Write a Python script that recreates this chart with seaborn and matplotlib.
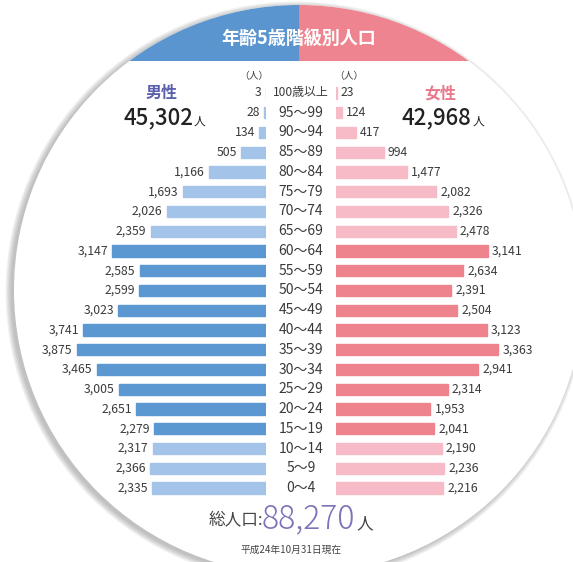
import numpy as np
import pandas as pd
import matplotlib
matplotlib.use("Agg")
import matplotlib.pyplot as plt
from matplotlib.patches import Circle, Rectangle
import seaborn as sns

AGES = ['100歳以上', '95〜99', '90〜94', '85〜89', '80〜84', '75〜79', '70〜74',
        '65〜69', '60〜64', '55〜59', '50〜54', '45〜49', '40〜44', '35〜39',
        '30〜34', '25〜29', '20〜24', '15〜19', '10〜14', '5〜9', '0〜4']
MALE = [3, 28, 134, 505, 1166, 1693, 2026, 2359, 3147, 2585, 2599, 3023,
        3741, 3875, 3465, 3005, 2651, 2279, 2317, 2366, 2335]
FEMALE = [23, 124, 417, 994, 1477, 2082, 2326, 2478, 3141, 2634, 2391, 2504,
          3123, 3363, 2941, 2314, 1953, 2041, 2190, 2236, 2216]
# 65歳以上 / 14歳以下 are drawn in the lighter tone
LIGHT = ['100歳以上', '95〜99', '90〜94', '85〜89', '80〜84', '75〜79', '70〜74',
         '65〜69', '10〜14', '5〜9', '0〜4']

MALE_TOTAL = 45302
FEMALE_TOTAL = 42968
TOTAL = 88270

BLUE, BLUE_L = '#5b97d1', '#a4c3e8'
PINK, PINK_L = '#ef838d', '#f6bbc7'
TXT = '#3a3a3a'

W, H = 573, 562


def main():
    sns.set_theme(style='white')
    plt.rcParams['font.family'] = ['Noto Sans CJK JP', 'DejaVu Sans']

    df = pd.DataFrame({'age': AGES, 'male': MALE, 'female': FEMALE})
    pal_m = {a: (BLUE_L if a in LIGHT else BLUE) for a in AGES}
    pal_f = {a: (PINK_L if a in LIGHT else PINK) for a in AGES}

    fig = plt.figure(figsize=(W / 100, H / 100), dpi=100)
    fig.patch.set_facecolor('white')

    # background / decoration in pixel coordinates
    bg = fig.add_axes([0, 0, 1, 1])
    bg.set_xlim(0, W)
    bg.set_ylim(H, 0)
    bg.axis('off')
    cx, cy, r = 299, 290, 285
    for k in range(8):
        bg.add_patch(Circle((cx - 3, cy + 2), r + k * 0.8, color='#7a7a7a',
                            alpha=0.07, lw=0))
    disc = Circle((cx, cy), r, color='white', lw=0)
    bg.add_patch(disc)
    left_band = Rectangle((0, 0), cx, 61, color='#5b95cf', lw=0)
    right_band = Rectangle((cx, 0), W - cx, 61, color='#ee848f', lw=0)
    for p in (left_band, right_band):
        bg.add_patch(p)
        p.set_clip_path(disc)

    bg.text(cx, 38, '年齢5歳階級別人口', color='white', fontsize=13,
            fontweight='bold', ha='center', va='center')
    bg.text(162, 93, '男性', color='#5a5fae', fontsize=11.5, fontweight='bold',
            ha='center', va='center')
    bg.text(440, 93, '女性', color='#e8788a', fontsize=11.5, fontweight='bold',
            ha='center', va='center')

    tm = bg.text(123, 118, f'{MALE_TOTAL:,}', color='#222222', fontsize=16,
                 fontweight='medium', ha='left', va='center')
    tf = bg.text(402, 118, f'{FEMALE_TOTAL:,}', color='#222222', fontsize=16,
                 fontweight='medium', ha='left', va='center')
    for t in (tm, tf):
        bg.annotate('人', xy=(1, 0.22), xycoords=t, xytext=(0.5, 0),
                    textcoords='offset points', color='#222222', fontsize=8.5,
                    ha='left', va='baseline')
    bg.text(268, 76, '（人）', color=TXT, fontsize=7, ha='right', va='center')
    bg.text(334, 76, '（人）', color=TXT, fontsize=7, ha='left', va='center')

    bg.text(263, 521, '総人口:', color='#444444', fontsize=12, ha='right',
            va='center')
    tt = bg.text(262, 519, f'{TOTAL:,}', color='#7e72b8', fontsize=23,
                 fontweight='light', ha='left', va='center')
    bg.annotate('人', xy=(1, 0.22), xycoords=tt, xytext=(1, 0),
                textcoords='offset points', color='#444444', fontsize=12,
                ha='left', va='baseline')
    bg.text(291, 550, '平成24年10月31日現在', color='#444444', fontsize=7,
            ha='center', va='center')

    # bar axes, rows 93px .. 488px
    top, bottom = 83.1, 497.9
    y0 = 1 - bottom / H
    hh = (bottom - top) / H
    xmax = 4500
    axm = fig.add_axes([(265.7 - xmax * 0.0488) / W, y0, xmax * 0.0488 / W, hh])
    axf = fig.add_axes([335.7 / W, y0, xmax * 0.0484 / W, hh])

    sns.barplot(data=df, x='male', y='age', hue='age', palette=pal_m,
                order=AGES, legend=False, width=0.58, ax=axm, saturation=1)
    sns.barplot(data=df, x='female', y='age', hue='age', palette=pal_f,
                order=AGES, legend=False, width=0.58, ax=axf, saturation=1)
    axm.set_xlim(xmax, 0)
    axf.set_xlim(0, xmax)

    for ax in (axm, axf):
        ax.set_facecolor('none')
        ax.set_xlabel('')
        ax.set_ylabel('')
        ax.set_xticks([])
        ax.set_yticks([])
        sns.despine(ax=ax, left=True, bottom=True)
        for patch in ax.patches:
            patch.set_edgecolor(patch.get_facecolor())
            patch.set_linewidth(1.0)

    for i, (m, f) in enumerate(zip(MALE, FEMALE)):
        axm.annotate(f'{m:,}', (m, i), xytext=(-3, 0), textcoords='offset points',
                     ha='right', va='center', fontsize=8.8, color=TXT,
                     annotation_clip=False)
        axf.annotate(f'{f:,}', (f, i), xytext=(3, 0), textcoords='offset points',
                     ha='left', va='center', fontsize=8.8, color=TXT,
                     annotation_clip=False)
        axm.annotate(AGES[i], (0, i), xytext=(25.5, 0), textcoords='offset points',
                     ha='center', va='center', fontsize=10 if i else 8.6,
                     color=TXT, annotation_clip=False)

    fig.savefig('out.png', dpi=100, facecolor='white')


if __name__ == "__main__":
    main()
